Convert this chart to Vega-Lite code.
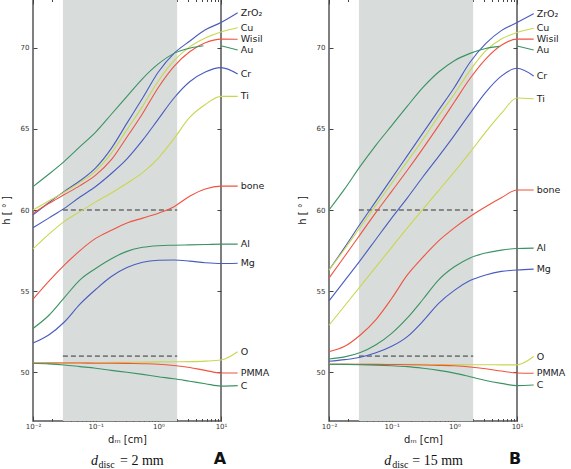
{
  "$schema": "https://vega.github.io/schema/vega-lite/v6.json",
  "background": "white",
  "padding": {"left": 0, "top": -3, "right": 0, "bottom": 0},
  "spacing": 25,
  "config": {
    "view": {"stroke": "#555", "strokeWidth": 1.5},
    "font": "DejaVu Sans",
    "axis": {"labelFont": "DejaVu Sans", "titleFont": "DejaVu Sans", "grid": false}
  },
  "datasets": {
    "a": [
      {"m":"ZrO₂","s":1,"x":0.01,"h":59.7},{"m":"ZrO₂","s":1,"x":0.0178,"h":60.45},{"m":"ZrO₂","s":1,"x":0.0316,"h":61.15},{"m":"ZrO₂","s":1,"x":0.0562,"h":61.8},{"m":"ZrO₂","s":1,"x":0.1,"h":62.6},{"m":"ZrO₂","s":1,"x":0.178,"h":63.8},{"m":"ZrO₂","s":1,"x":0.316,"h":65.35},{"m":"ZrO₂","s":1,"x":0.562,"h":66.9},{"m":"ZrO₂","s":1,"x":1,"h":68.5},{"m":"ZrO₂","s":1,"x":1.78,"h":69.65},{"m":"ZrO₂","s":1,"x":3.16,"h":70.4},{"m":"ZrO₂","s":1,"x":5.62,"h":71.1},{"m":"ZrO₂","s":1,"x":10,"h":71.55},{"m":"ZrO₂","s":1,"x":18.45,"h":72.15},
      {"m":"Cu","s":1,"x":0.01,"h":60.0},{"m":"Cu","s":1,"x":0.0178,"h":60.55},{"m":"Cu","s":1,"x":0.0316,"h":61.1},{"m":"Cu","s":1,"x":0.0562,"h":61.7},{"m":"Cu","s":1,"x":0.1,"h":62.4},{"m":"Cu","s":1,"x":0.178,"h":63.5},{"m":"Cu","s":1,"x":0.316,"h":64.95},{"m":"Cu","s":1,"x":0.562,"h":66.4},{"m":"Cu","s":1,"x":1,"h":67.95},{"m":"Cu","s":1,"x":1.78,"h":69.2},{"m":"Cu","s":1,"x":3.16,"h":70.05},{"m":"Cu","s":1,"x":5.62,"h":70.6},{"m":"Cu","s":1,"x":10,"h":70.97},{"m":"Cu","s":1,"x":18.45,"h":71.23},
      {"m":"Wisil","s":1,"x":0.01,"h":59.8},{"m":"Wisil","s":1,"x":0.0178,"h":60.4},{"m":"Wisil","s":1,"x":0.0316,"h":60.95},{"m":"Wisil","s":1,"x":0.0562,"h":61.5},{"m":"Wisil","s":1,"x":0.1,"h":62.15},{"m":"Wisil","s":1,"x":0.178,"h":63.1},{"m":"Wisil","s":1,"x":0.316,"h":64.5},{"m":"Wisil","s":1,"x":0.562,"h":65.95},{"m":"Wisil","s":1,"x":1,"h":67.55},{"m":"Wisil","s":1,"x":1.78,"h":68.85},{"m":"Wisil","s":1,"x":3.16,"h":69.75},{"m":"Wisil","s":1,"x":5.62,"h":70.3},{"m":"Wisil","s":1,"x":10,"h":70.53},{"m":"Wisil","s":1,"x":18.45,"h":70.52},
      {"m":"Au","s":1,"x":0.01,"h":61.44},{"m":"Au","s":1,"x":0.0178,"h":62.2},{"m":"Au","s":1,"x":0.0316,"h":63.0},{"m":"Au","s":1,"x":0.0562,"h":63.9},{"m":"Au","s":1,"x":0.1,"h":64.8},{"m":"Au","s":1,"x":0.178,"h":65.9},{"m":"Au","s":1,"x":0.316,"h":67.0},{"m":"Au","s":1,"x":0.562,"h":68.1},{"m":"Au","s":1,"x":1,"h":69.0},{"m":"Au","s":1,"x":1.78,"h":69.65},{"m":"Au","s":1,"x":3.16,"h":69.97},{"m":"Au","s":1,"x":5.25,"h":70.12},{"m":"Au","s":2,"x":10,"h":70.12},{"m":"Au","s":2,"x":18.45,"h":69.86},
      {"m":"Cr","s":1,"x":0.01,"h":58.9},{"m":"Cr","s":1,"x":0.0178,"h":59.5},{"m":"Cr","s":1,"x":0.0316,"h":60.1},{"m":"Cr","s":1,"x":0.0562,"h":60.8},{"m":"Cr","s":1,"x":0.1,"h":61.45},{"m":"Cr","s":1,"x":0.178,"h":62.25},{"m":"Cr","s":1,"x":0.316,"h":63.15},{"m":"Cr","s":1,"x":0.562,"h":64.3},{"m":"Cr","s":1,"x":1,"h":65.6},{"m":"Cr","s":1,"x":1.78,"h":66.9},{"m":"Cr","s":1,"x":3.16,"h":67.9},{"m":"Cr","s":1,"x":5.62,"h":68.5},{"m":"Cr","s":1,"x":10,"h":68.77},{"m":"Cr","s":1,"x":18.45,"h":68.38},
      {"m":"Ti","s":1,"x":0.01,"h":57.6},{"m":"Ti","s":1,"x":0.0178,"h":58.5},{"m":"Ti","s":1,"x":0.0316,"h":59.3},{"m":"Ti","s":1,"x":0.0562,"h":59.9},{"m":"Ti","s":1,"x":0.1,"h":60.5},{"m":"Ti","s":1,"x":0.178,"h":61.05},{"m":"Ti","s":1,"x":0.316,"h":61.65},{"m":"Ti","s":1,"x":0.562,"h":62.3},{"m":"Ti","s":1,"x":1,"h":63.2},{"m":"Ti","s":1,"x":1.78,"h":64.4},{"m":"Ti","s":1,"x":3.16,"h":65.7},{"m":"Ti","s":1,"x":5.62,"h":66.5},{"m":"Ti","s":1,"x":10,"h":67.0},{"m":"Ti","s":1,"x":18.45,"h":67.0},
      {"m":"bone","s":1,"x":0.01,"h":54.5},{"m":"bone","s":1,"x":0.0178,"h":55.6},{"m":"bone","s":1,"x":0.0316,"h":56.6},{"m":"bone","s":1,"x":0.0562,"h":57.5},{"m":"bone","s":1,"x":0.1,"h":58.25},{"m":"bone","s":1,"x":0.178,"h":58.75},{"m":"bone","s":1,"x":0.316,"h":59.2},{"m":"bone","s":1,"x":0.562,"h":59.5},{"m":"bone","s":1,"x":1,"h":59.8},{"m":"bone","s":1,"x":1.78,"h":60.2},{"m":"bone","s":1,"x":3.16,"h":60.85},{"m":"bone","s":1,"x":5.62,"h":61.3},{"m":"bone","s":1,"x":10,"h":61.47},{"m":"bone","s":1,"x":18.45,"h":61.47},
      {"m":"Al","s":1,"x":0.01,"h":52.7},{"m":"Al","s":1,"x":0.0178,"h":53.5},{"m":"Al","s":1,"x":0.0316,"h":54.6},{"m":"Al","s":1,"x":0.0562,"h":55.7},{"m":"Al","s":1,"x":0.1,"h":56.4},{"m":"Al","s":1,"x":0.178,"h":57.0},{"m":"Al","s":1,"x":0.316,"h":57.45},{"m":"Al","s":1,"x":0.562,"h":57.7},{"m":"Al","s":1,"x":1,"h":57.8},{"m":"Al","s":1,"x":1.78,"h":57.83},{"m":"Al","s":1,"x":3.16,"h":57.85},{"m":"Al","s":1,"x":5.62,"h":57.87},{"m":"Al","s":1,"x":10,"h":57.9},{"m":"Al","s":1,"x":18.45,"h":57.9},
      {"m":"Mg","s":1,"x":0.01,"h":51.8},{"m":"Mg","s":1,"x":0.0178,"h":52.3},{"m":"Mg","s":1,"x":0.0316,"h":53.1},{"m":"Mg","s":1,"x":0.0562,"h":54.2},{"m":"Mg","s":1,"x":0.1,"h":55.1},{"m":"Mg","s":1,"x":0.178,"h":55.9},{"m":"Mg","s":1,"x":0.316,"h":56.45},{"m":"Mg","s":1,"x":0.562,"h":56.78},{"m":"Mg","s":1,"x":1,"h":56.9},{"m":"Mg","s":1,"x":1.78,"h":56.92},{"m":"Mg","s":1,"x":3.16,"h":56.85},{"m":"Mg","s":1,"x":5.62,"h":56.75},{"m":"Mg","s":1,"x":10,"h":56.7},{"m":"Mg","s":1,"x":18.45,"h":56.72},
      {"m":"O","s":1,"x":0.01,"h":50.57},{"m":"O","s":1,"x":0.0178,"h":50.58},{"m":"O","s":1,"x":0.0316,"h":50.59},{"m":"O","s":1,"x":0.0562,"h":50.6},{"m":"O","s":1,"x":0.1,"h":50.6},{"m":"O","s":1,"x":0.178,"h":50.61},{"m":"O","s":1,"x":0.316,"h":50.62},{"m":"O","s":1,"x":0.562,"h":50.63},{"m":"O","s":1,"x":1,"h":50.64},{"m":"O","s":1,"x":1.78,"h":50.65},{"m":"O","s":1,"x":3.16,"h":50.66},{"m":"O","s":1,"x":5.62,"h":50.69},{"m":"O","s":1,"x":10,"h":50.76},{"m":"O","s":1,"x":18.45,"h":51.27},
      {"m":"PMMA","s":1,"x":0.01,"h":50.57},{"m":"PMMA","s":1,"x":0.0178,"h":50.57},{"m":"PMMA","s":1,"x":0.0316,"h":50.57},{"m":"PMMA","s":1,"x":0.0562,"h":50.57},{"m":"PMMA","s":1,"x":0.1,"h":50.56},{"m":"PMMA","s":1,"x":0.178,"h":50.56},{"m":"PMMA","s":1,"x":0.316,"h":50.55},{"m":"PMMA","s":1,"x":0.562,"h":50.53},{"m":"PMMA","s":1,"x":1,"h":50.5},{"m":"PMMA","s":1,"x":1.78,"h":50.42},{"m":"PMMA","s":1,"x":3.16,"h":50.3},{"m":"PMMA","s":1,"x":5.62,"h":50.12},{"m":"PMMA","s":1,"x":10,"h":49.96},{"m":"PMMA","s":1,"x":18.45,"h":49.96},
      {"m":"C","s":1,"x":0.01,"h":50.56},{"m":"C","s":1,"x":0.0178,"h":50.52},{"m":"C","s":1,"x":0.0316,"h":50.45},{"m":"C","s":1,"x":0.0562,"h":50.35},{"m":"C","s":1,"x":0.1,"h":50.25},{"m":"C","s":1,"x":0.178,"h":50.12},{"m":"C","s":1,"x":0.316,"h":50.0},{"m":"C","s":1,"x":0.562,"h":49.87},{"m":"C","s":1,"x":1,"h":49.73},{"m":"C","s":1,"x":1.78,"h":49.6},{"m":"C","s":1,"x":3.16,"h":49.45},{"m":"C","s":1,"x":5.62,"h":49.3},{"m":"C","s":1,"x":10,"h":49.15},{"m":"C","s":1,"x":18.45,"h":49.18}
    ],
    "b": [
      {"m":"ZrO₂","s":1,"x":0.01,"h":56.3},{"m":"ZrO₂","s":1,"x":0.0178,"h":57.7},{"m":"ZrO₂","s":1,"x":0.0316,"h":59.15},{"m":"ZrO₂","s":1,"x":0.0562,"h":60.55},{"m":"ZrO₂","s":1,"x":0.1,"h":61.95},{"m":"ZrO₂","s":1,"x":0.178,"h":63.35},{"m":"ZrO₂","s":1,"x":0.316,"h":64.75},{"m":"ZrO₂","s":1,"x":0.562,"h":66.15},{"m":"ZrO₂","s":1,"x":1,"h":67.55},{"m":"ZrO₂","s":1,"x":1.78,"h":69.1},{"m":"ZrO₂","s":1,"x":3.16,"h":70.25},{"m":"ZrO₂","s":1,"x":5.62,"h":71.05},{"m":"ZrO₂","s":1,"x":10,"h":71.55},{"m":"ZrO₂","s":1,"x":18.45,"h":72.1},
      {"m":"Cu","s":1,"x":0.01,"h":56.3},{"m":"Cu","s":1,"x":0.0178,"h":57.6},{"m":"Cu","s":1,"x":0.0316,"h":58.95},{"m":"Cu","s":1,"x":0.0562,"h":60.3},{"m":"Cu","s":1,"x":0.1,"h":61.65},{"m":"Cu","s":1,"x":0.178,"h":63.0},{"m":"Cu","s":1,"x":0.316,"h":64.35},{"m":"Cu","s":1,"x":0.562,"h":65.8},{"m":"Cu","s":1,"x":1,"h":67.15},{"m":"Cu","s":1,"x":1.78,"h":68.6},{"m":"Cu","s":1,"x":3.16,"h":69.8},{"m":"Cu","s":1,"x":5.62,"h":70.53},{"m":"Cu","s":1,"x":10,"h":70.94},{"m":"Cu","s":1,"x":18.45,"h":71.2},
      {"m":"Wisil","s":1,"x":0.01,"h":55.8},{"m":"Wisil","s":1,"x":0.0178,"h":57.15},{"m":"Wisil","s":1,"x":0.0316,"h":58.5},{"m":"Wisil","s":1,"x":0.0562,"h":59.85},{"m":"Wisil","s":1,"x":0.1,"h":61.15},{"m":"Wisil","s":1,"x":0.178,"h":62.45},{"m":"Wisil","s":1,"x":0.316,"h":63.8},{"m":"Wisil","s":1,"x":0.562,"h":65.2},{"m":"Wisil","s":1,"x":1,"h":66.65},{"m":"Wisil","s":1,"x":1.78,"h":68.1},{"m":"Wisil","s":1,"x":3.16,"h":69.3},{"m":"Wisil","s":1,"x":5.62,"h":70.15},{"m":"Wisil","s":1,"x":10,"h":70.53},{"m":"Wisil","s":1,"x":18.45,"h":70.53},
      {"m":"Au","s":1,"x":0.01,"h":60.0},{"m":"Au","s":1,"x":0.0178,"h":61.3},{"m":"Au","s":1,"x":0.0316,"h":62.7},{"m":"Au","s":1,"x":0.0562,"h":64.0},{"m":"Au","s":1,"x":0.1,"h":65.2},{"m":"Au","s":1,"x":0.178,"h":66.4},{"m":"Au","s":1,"x":0.316,"h":67.55},{"m":"Au","s":1,"x":0.562,"h":68.5},{"m":"Au","s":1,"x":1,"h":69.2},{"m":"Au","s":1,"x":1.78,"h":69.65},{"m":"Au","s":1,"x":3.16,"h":69.95},{"m":"Au","s":1,"x":5.25,"h":70.08},{"m":"Au","s":2,"x":10,"h":70.1},{"m":"Au","s":2,"x":18.45,"h":69.86},
      {"m":"Cr","s":1,"x":0.01,"h":54.4},{"m":"Cr","s":1,"x":0.0178,"h":55.65},{"m":"Cr","s":1,"x":0.0316,"h":56.9},{"m":"Cr","s":1,"x":0.0562,"h":58.2},{"m":"Cr","s":1,"x":0.1,"h":59.5},{"m":"Cr","s":1,"x":0.178,"h":60.75},{"m":"Cr","s":1,"x":0.316,"h":62.05},{"m":"Cr","s":1,"x":0.562,"h":63.3},{"m":"Cr","s":1,"x":1,"h":64.6},{"m":"Cr","s":1,"x":1.78,"h":65.95},{"m":"Cr","s":1,"x":3.16,"h":67.25},{"m":"Cr","s":1,"x":5.62,"h":68.25},{"m":"Cr","s":1,"x":10,"h":68.73},{"m":"Cr","s":1,"x":18.45,"h":68.26},
      {"m":"Ti","s":1,"x":0.01,"h":52.9},{"m":"Ti","s":1,"x":0.0178,"h":54.1},{"m":"Ti","s":1,"x":0.0316,"h":55.3},{"m":"Ti","s":1,"x":0.0562,"h":56.5},{"m":"Ti","s":1,"x":0.1,"h":57.7},{"m":"Ti","s":1,"x":0.178,"h":58.9},{"m":"Ti","s":1,"x":0.316,"h":60.05},{"m":"Ti","s":1,"x":0.562,"h":61.2},{"m":"Ti","s":1,"x":1,"h":62.35},{"m":"Ti","s":1,"x":1.78,"h":63.55},{"m":"Ti","s":1,"x":3.16,"h":64.8},{"m":"Ti","s":1,"x":5.62,"h":65.95},{"m":"Ti","s":1,"x":10,"h":66.9},{"m":"Ti","s":1,"x":18.45,"h":66.85},
      {"m":"bone","s":1,"x":0.01,"h":51.27},{"m":"bone","s":1,"x":0.0178,"h":51.6},{"m":"bone","s":1,"x":0.0316,"h":52.3},{"m":"bone","s":1,"x":0.0562,"h":53.25},{"m":"bone","s":1,"x":0.1,"h":54.55},{"m":"bone","s":1,"x":0.178,"h":56.0},{"m":"bone","s":1,"x":0.316,"h":57.1},{"m":"bone","s":1,"x":0.562,"h":58.1},{"m":"bone","s":1,"x":1,"h":58.9},{"m":"bone","s":1,"x":1.78,"h":59.6},{"m":"bone","s":1,"x":3.16,"h":60.2},{"m":"bone","s":1,"x":5.62,"h":60.75},{"m":"bone","s":1,"x":10,"h":61.23},{"m":"bone","s":1,"x":18.45,"h":61.23},
      {"m":"Al","s":1,"x":0.01,"h":50.82},{"m":"Al","s":1,"x":0.0178,"h":50.95},{"m":"Al","s":1,"x":0.0316,"h":51.22},{"m":"Al","s":1,"x":0.0562,"h":51.7},{"m":"Al","s":1,"x":0.1,"h":52.4},{"m":"Al","s":1,"x":0.178,"h":53.35},{"m":"Al","s":1,"x":0.316,"h":54.5},{"m":"Al","s":1,"x":0.562,"h":55.7},{"m":"Al","s":1,"x":1,"h":56.5},{"m":"Al","s":1,"x":1.78,"h":57.05},{"m":"Al","s":1,"x":3.16,"h":57.35},{"m":"Al","s":1,"x":5.62,"h":57.53},{"m":"Al","s":1,"x":10,"h":57.63},{"m":"Al","s":1,"x":18.45,"h":57.65},
      {"m":"Mg","s":1,"x":0.01,"h":50.68},{"m":"Mg","s":1,"x":0.0178,"h":50.78},{"m":"Mg","s":1,"x":0.0316,"h":50.93},{"m":"Mg","s":1,"x":0.0562,"h":51.2},{"m":"Mg","s":1,"x":0.1,"h":51.6},{"m":"Mg","s":1,"x":0.178,"h":52.2},{"m":"Mg","s":1,"x":0.316,"h":53.15},{"m":"Mg","s":1,"x":0.562,"h":54.25},{"m":"Mg","s":1,"x":1,"h":55.05},{"m":"Mg","s":1,"x":1.78,"h":55.65},{"m":"Mg","s":1,"x":3.16,"h":56.0},{"m":"Mg","s":1,"x":5.62,"h":56.22},{"m":"Mg","s":1,"x":10,"h":56.3},{"m":"Mg","s":1,"x":18.45,"h":56.36},
      {"m":"O","s":1,"x":0.01,"h":50.5},{"m":"O","s":1,"x":0.0178,"h":50.5},{"m":"O","s":1,"x":0.0316,"h":50.5},{"m":"O","s":1,"x":0.0562,"h":50.5},{"m":"O","s":1,"x":0.1,"h":50.5},{"m":"O","s":1,"x":0.178,"h":50.49},{"m":"O","s":1,"x":0.316,"h":50.49},{"m":"O","s":1,"x":0.562,"h":50.48},{"m":"O","s":1,"x":1,"h":50.48},{"m":"O","s":1,"x":1.78,"h":50.47},{"m":"O","s":1,"x":3.16,"h":50.47},{"m":"O","s":1,"x":5.62,"h":50.46},{"m":"O","s":1,"x":10,"h":50.46},{"m":"O","s":1,"x":18.45,"h":50.97},
      {"m":"PMMA","s":1,"x":0.01,"h":50.5},{"m":"PMMA","s":1,"x":0.0178,"h":50.5},{"m":"PMMA","s":1,"x":0.0316,"h":50.49},{"m":"PMMA","s":1,"x":0.0562,"h":50.49},{"m":"PMMA","s":1,"x":0.1,"h":50.48},{"m":"PMMA","s":1,"x":0.178,"h":50.47},{"m":"PMMA","s":1,"x":0.316,"h":50.45},{"m":"PMMA","s":1,"x":0.562,"h":50.43},{"m":"PMMA","s":1,"x":1,"h":50.4},{"m":"PMMA","s":1,"x":1.78,"h":50.33},{"m":"PMMA","s":1,"x":3.16,"h":50.22},{"m":"PMMA","s":1,"x":5.62,"h":50.08},{"m":"PMMA","s":1,"x":10,"h":49.96},{"m":"PMMA","s":1,"x":18.45,"h":49.94},
      {"m":"C","s":1,"x":0.01,"h":50.5},{"m":"C","s":1,"x":0.0178,"h":50.49},{"m":"C","s":1,"x":0.0316,"h":50.47},{"m":"C","s":1,"x":0.0562,"h":50.44},{"m":"C","s":1,"x":0.1,"h":50.4},{"m":"C","s":1,"x":0.178,"h":50.35},{"m":"C","s":1,"x":0.316,"h":50.25},{"m":"C","s":1,"x":0.562,"h":50.12},{"m":"C","s":1,"x":1,"h":49.95},{"m":"C","s":1,"x":1.78,"h":49.73},{"m":"C","s":1,"x":3.16,"h":49.5},{"m":"C","s":1,"x":5.62,"h":49.32},{"m":"C","s":1,"x":10,"h":49.18},{"m":"C","s":1,"x":18.45,"h":49.22}
    ],
    "band": [{"x1": 0.03, "x2": 2}],
    "refs": [{"x1": 0.03, "x2": 2, "y": 60}, {"x1": 0.03, "x2": 2, "y": 51}]
  },
  "hconcat": [
    {
      "width": 188,
      "height": 422,
      "resolve": {"axis": {"x": "independent", "y": "independent"}},
      "layer": [
        {
          "data": {"name": "band"},
          "mark": {"type": "rect", "color": "#d8dddc"},
          "encoding": {
            "x": {"field": "x1", "type": "quantitative", "scale": {"type": "log", "domain": [0.01, 10], "nice": false},
              "axis": {"orient": "bottom", "values": [0.01,0.02,0.03,0.04,0.05,0.06,0.07,0.08,0.09,0.1,0.2,0.3,0.4,0.5,0.6,0.7,0.8,0.9,1,2,3,4,5,6,7,8,9,10],
                "labelExpr": "abs(log(datum.value)/LN10 - round(log(datum.value)/LN10)) > 0.01 ? '' : '10' + ['⁻²','⁻¹','⁰','¹'][round(log(datum.value)/LN10)+2]",
                "tickSize": {"condition": {"test": "abs(log(datum.value)/LN10 - round(log(datum.value)/LN10)) < 0.01", "value": -5}, "value": -2.5},
                "tickColor": "#444", "domain": false, "labelFontSize": 7, "labelColor": "#333", "labelPadding": 6, "labelFlush": false, "labelOverlap": false,
                "title": "dₘ [cm]", "titleFontSize": 10, "titleFontWeight": "normal", "titleColor": "#222", "titlePadding": 3}},
            "x2": {"field": "x2"}
          }
        },
        {
          "data": {"name": "refs"},
          "mark": {"type": "rule", "strokeDash": [5, 3], "color": "#333", "strokeWidth": 1},
          "encoding": {
            "x": {"field": "x1", "type": "quantitative", "scale": {"type": "log", "domain": [0.01, 10], "nice": false},
              "axis": {"orient": "top", "values": [0.01,0.02,0.03,0.04,0.05,0.06,0.07,0.08,0.09,0.1,0.2,0.3,0.4,0.5,0.6,0.7,0.8,0.9,1,2,3,4,5,6,7,8,9,10],
                "labels": false, "domain": false, "title": null, "tickColor": "#444",
                "tickSize": {"condition": {"test": "abs(log(datum.value)/LN10 - round(log(datum.value)/LN10)) < 0.01", "value": -5}, "value": -2.5}}},
            "x2": {"field": "x2"},
            "y": {"field": "y", "type": "quantitative", "scale": {"domain": [47, 73], "nice": false, "zero": false},
              "axis": {"orient": "right", "values": [50, 55, 60, 65, 70], "labels": false, "domain": false, "title": null, "tickSize": -4, "tickColor": "#444"}}
          }
        },
        {
          "data": {"name": "a"},
          "mark": {"type": "line", "interpolate": "monotone", "strokeWidth": 1.1, "clip": false},
          "encoding": {
            "x": {"field": "x", "type": "quantitative", "scale": {"type": "log", "domain": [0.01, 10], "nice": false}, "axis": null},
            "y": {"field": "h", "type": "quantitative", "scale": {"domain": [47, 73], "nice": false, "zero": false},
              "axis": {"orient": "left", "values": [50, 55, 60, 65, 70], "tickSize": -4, "tickColor": "#444", "domain": false,
                "labelFontSize": 7, "labelColor": "#333", "labelPadding": 8,
                "title": "h [ ° ]", "titleFontSize": 10, "titleFontWeight": "normal", "titleColor": "#222", "titlePadding": 9}},
            "color": {"field": "m", "type": "nominal", "legend": null,
              "scale": {"domain": ["ZrO₂","Cu","Wisil","Au","Cr","Ti","bone","Al","Mg","O","PMMA","C"],
                "range": ["#4a5bbf","#c9d64f","#f0533f","#3b9363","#4a5bbf","#c9d64f","#f0533f","#3b9363","#4a5bbf","#c9d64f","#f0533f","#3b9363"]}},
            "detail": {"field": "s"}
          }
        },
        {
          "data": {"name": "a"},
          "transform": [{"filter": "datum.x > 12"}],
          "mark": {"type": "text", "align": "left", "baseline": "middle", "dx": 3, "fontSize": 9.5, "color": "#222"},
          "encoding": {
            "x": {"field": "x", "type": "quantitative", "scale": {"type": "log", "domain": [0.01, 10], "nice": false}, "axis": null},
            "y": {"field": "h", "type": "quantitative", "scale": {"domain": [47, 73], "nice": false, "zero": false}, "axis": null},
            "text": {"field": "m"}
          }
        },
        {
          "data": {"values": [{"x": 0.0842, "y": 44.29, "t": "d"}]},
          "mark": {"type": "text", "align": "left", "baseline": "alphabetic", "font": "Liberation Serif", "fontStyle": "italic", "fontSize": 14, "color": "#111"},
          "encoding": {"x": {"field": "x", "type": "quantitative", "scale": {"type": "log", "domain": [0.01, 10], "nice": false}, "axis": null}, "y": {"field": "y", "type": "quantitative", "scale": {"domain": [47, 73], "nice": false, "zero": false}, "axis": null}, "text": {"field": "t"}}
        },
        {
          "data": {"values": [{"x": 0.111, "y": 44.29, "t": "disc"}]},
          "mark": {"type": "text", "align": "left", "baseline": "alphabetic", "dy": 3, "font": "Liberation Serif", "fontSize": 10, "color": "#111"},
          "encoding": {"x": {"field": "x", "type": "quantitative", "scale": {"type": "log", "domain": [0.01, 10], "nice": false}, "axis": null}, "y": {"field": "y", "type": "quantitative", "scale": {"domain": [47, 73], "nice": false, "zero": false}, "axis": null}, "text": {"field": "t"}}
        },
        {
          "data": {"values": [{"x": 0.2445, "y": 44.29, "t": "= 2 mm"}]},
          "mark": {"type": "text", "align": "left", "baseline": "alphabetic", "font": "Liberation Serif", "fontSize": 14, "color": "#111"},
          "encoding": {"x": {"field": "x", "type": "quantitative", "scale": {"type": "log", "domain": [0.01, 10], "nice": false}, "axis": null}, "y": {"field": "y", "type": "quantitative", "scale": {"domain": [47, 73], "nice": false, "zero": false}, "axis": null}, "text": {"field": "t"}}
        },
        {
          "data": {"values": [{"x": 9.6, "y": 44.65, "t": "A"}]},
          "mark": {"type": "text", "align": "center", "baseline": "middle", "font": "DejaVu Sans", "fontWeight": "bold", "fontSize": 16, "color": "#111"},
          "encoding": {"x": {"field": "x", "type": "quantitative", "scale": {"type": "log", "domain": [0.01, 10], "nice": false}, "axis": null}, "y": {"field": "y", "type": "quantitative", "scale": {"domain": [47, 73], "nice": false, "zero": false}, "axis": null}, "text": {"field": "t"}}
        }
      ]
    },
    {
      "width": 188,
      "height": 422,
      "resolve": {"axis": {"x": "independent", "y": "independent"}},
      "layer": [
        {
          "data": {"name": "band"},
          "mark": {"type": "rect", "color": "#d8dddc"},
          "encoding": {
            "x": {"field": "x1", "type": "quantitative", "scale": {"type": "log", "domain": [0.01, 10], "nice": false},
              "axis": {"orient": "bottom", "values": [0.01,0.02,0.03,0.04,0.05,0.06,0.07,0.08,0.09,0.1,0.2,0.3,0.4,0.5,0.6,0.7,0.8,0.9,1,2,3,4,5,6,7,8,9,10],
                "labelExpr": "abs(log(datum.value)/LN10 - round(log(datum.value)/LN10)) > 0.01 ? '' : '10' + ['⁻²','⁻¹','⁰','¹'][round(log(datum.value)/LN10)+2]",
                "tickSize": {"condition": {"test": "abs(log(datum.value)/LN10 - round(log(datum.value)/LN10)) < 0.01", "value": -5}, "value": -2.5},
                "tickColor": "#444", "domain": false, "labelFontSize": 7, "labelColor": "#333", "labelPadding": 6, "labelFlush": false, "labelOverlap": false,
                "title": "dₘ [cm]", "titleFontSize": 10, "titleFontWeight": "normal", "titleColor": "#222", "titlePadding": 3}},
            "x2": {"field": "x2"}
          }
        },
        {
          "data": {"name": "refs"},
          "mark": {"type": "rule", "strokeDash": [5, 3], "color": "#333", "strokeWidth": 1},
          "encoding": {
            "x": {"field": "x1", "type": "quantitative", "scale": {"type": "log", "domain": [0.01, 10], "nice": false},
              "axis": {"orient": "top", "values": [0.01,0.02,0.03,0.04,0.05,0.06,0.07,0.08,0.09,0.1,0.2,0.3,0.4,0.5,0.6,0.7,0.8,0.9,1,2,3,4,5,6,7,8,9,10],
                "labels": false, "domain": false, "title": null, "tickColor": "#444",
                "tickSize": {"condition": {"test": "abs(log(datum.value)/LN10 - round(log(datum.value)/LN10)) < 0.01", "value": -5}, "value": -2.5}}},
            "x2": {"field": "x2"},
            "y": {"field": "y", "type": "quantitative", "scale": {"domain": [47, 73], "nice": false, "zero": false},
              "axis": {"orient": "right", "values": [50, 55, 60, 65, 70], "labels": false, "domain": false, "title": null, "tickSize": -4, "tickColor": "#444"}}
          }
        },
        {
          "data": {"name": "b"},
          "mark": {"type": "line", "interpolate": "monotone", "strokeWidth": 1.1, "clip": false},
          "encoding": {
            "x": {"field": "x", "type": "quantitative", "scale": {"type": "log", "domain": [0.01, 10], "nice": false}, "axis": null},
            "y": {"field": "h", "type": "quantitative", "scale": {"domain": [47, 73], "nice": false, "zero": false},
              "axis": {"orient": "left", "values": [50, 55, 60, 65, 70], "tickSize": -4, "tickColor": "#444", "domain": false,
                "labelFontSize": 7, "labelColor": "#333", "labelPadding": 8,
                "title": "h [ ° ]", "titleFontSize": 10, "titleFontWeight": "normal", "titleColor": "#222", "titlePadding": 9}},
            "color": {"field": "m", "type": "nominal", "legend": null,
              "scale": {"domain": ["ZrO₂","Cu","Wisil","Au","Cr","Ti","bone","Al","Mg","O","PMMA","C"],
                "range": ["#4a5bbf","#c9d64f","#f0533f","#3b9363","#4a5bbf","#c9d64f","#f0533f","#3b9363","#4a5bbf","#c9d64f","#f0533f","#3b9363"]}},
            "detail": {"field": "s"}
          }
        },
        {
          "data": {"name": "b"},
          "transform": [{"filter": "datum.x > 12"}],
          "mark": {"type": "text", "align": "left", "baseline": "middle", "dx": 3, "fontSize": 9.5, "color": "#222"},
          "encoding": {
            "x": {"field": "x", "type": "quantitative", "scale": {"type": "log", "domain": [0.01, 10], "nice": false}, "axis": null},
            "y": {"field": "h", "type": "quantitative", "scale": {"domain": [47, 73], "nice": false, "zero": false}, "axis": null},
            "text": {"field": "m"}
          }
        },
        {
          "data": {"values": [{"x": 0.0762, "y": 44.29, "t": "d"}]},
          "mark": {"type": "text", "align": "left", "baseline": "alphabetic", "font": "Liberation Serif", "fontStyle": "italic", "fontSize": 14, "color": "#111"},
          "encoding": {"x": {"field": "x", "type": "quantitative", "scale": {"type": "log", "domain": [0.01, 10], "nice": false}, "axis": null}, "y": {"field": "y", "type": "quantitative", "scale": {"domain": [47, 73], "nice": false, "zero": false}, "axis": null}, "text": {"field": "t"}}
        },
        {
          "data": {"values": [{"x": 0.102, "y": 44.29, "t": "disc"}]},
          "mark": {"type": "text", "align": "left", "baseline": "alphabetic", "dy": 3, "font": "Liberation Serif", "fontSize": 10, "color": "#111"},
          "encoding": {"x": {"field": "x", "type": "quantitative", "scale": {"type": "log", "domain": [0.01, 10], "nice": false}, "axis": null}, "y": {"field": "y", "type": "quantitative", "scale": {"domain": [47, 73], "nice": false, "zero": false}, "axis": null}, "text": {"field": "t"}}
        },
        {
          "data": {"values": [{"x": 0.213, "y": 44.29, "t": "= 15 mm"}]},
          "mark": {"type": "text", "align": "left", "baseline": "alphabetic", "font": "Liberation Serif", "fontSize": 14, "color": "#111"},
          "encoding": {"x": {"field": "x", "type": "quantitative", "scale": {"type": "log", "domain": [0.01, 10], "nice": false}, "axis": null}, "y": {"field": "y", "type": "quantitative", "scale": {"domain": [47, 73], "nice": false, "zero": false}, "axis": null}, "text": {"field": "t"}}
        },
        {
          "data": {"values": [{"x": 9.3, "y": 44.65, "t": "B"}]},
          "mark": {"type": "text", "align": "center", "baseline": "middle", "font": "DejaVu Sans", "fontWeight": "bold", "fontSize": 16, "color": "#111"},
          "encoding": {"x": {"field": "x", "type": "quantitative", "scale": {"type": "log", "domain": [0.01, 10], "nice": false}, "axis": null}, "y": {"field": "y", "type": "quantitative", "scale": {"domain": [47, 73], "nice": false, "zero": false}, "axis": null}, "text": {"field": "t"}}
        }
      ]
    }
  ]
}
